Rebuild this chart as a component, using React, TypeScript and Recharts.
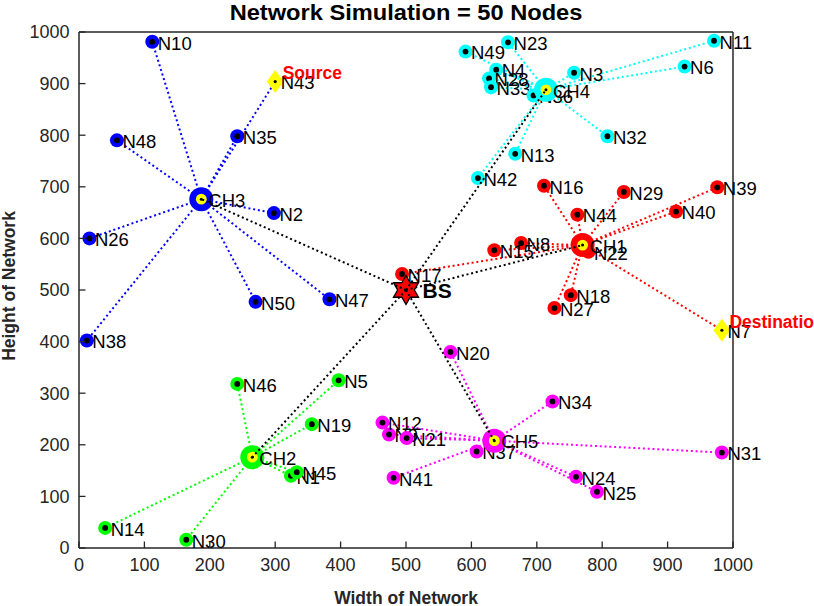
import React from 'react';
import { ScatterChart, Scatter, XAxis, YAxis } from 'recharts';

type Pt = { name: string; x: number; y: number };

// ---- data ----
const baseStation: Pt = { name: 'BS', x: 500, y: 500 };

const clusterHeads: Pt[] = [
  { name: 'CH1', x: 770, y: 587 },
  { name: 'CH2', x: 265, y: 176 },
  { name: 'CH3', x: 187, y: 676 },
  { name: 'CH4', x: 714, y: 888 },
  { name: 'CH5', x: 635, y: 208 },
];

const blueNodes: Pt[] = [
  { name: 'N2', x: 298, y: 649 },
  { name: 'N10', x: 112, y: 981 },
  { name: 'N26', x: 16, y: 600 },
  { name: 'N35', x: 242, y: 798 },
  { name: 'N38', x: 12, y: 402 },
  { name: 'N47', x: 383, y: 482 },
  { name: 'N48', x: 58, y: 790 },
  { name: 'N50', x: 270, y: 477 },
];

const greenNodes: Pt[] = [
  { name: 'N1', x: 324, y: 140 },
  { name: 'N5', x: 397, y: 325 },
  { name: 'N14', x: 40, y: 39 },
  { name: 'N19', x: 356, y: 240 },
  { name: 'N30', x: 164, y: 16 },
  { name: 'N45', x: 333, y: 147 },
  { name: 'N46', x: 242, y: 318 },
];

const redNodes: Pt[] = [
  { name: 'N8', x: 676, y: 591 },
  { name: 'N15', x: 635, y: 577 },
  { name: 'N16', x: 711, y: 702 },
  { name: 'N17', x: 494, y: 531 },
  { name: 'N18', x: 752, y: 490 },
  { name: 'N22', x: 779, y: 574 },
  { name: 'N27', x: 727, y: 465 },
  { name: 'N29', x: 833, y: 690 },
  { name: 'N39', x: 976, y: 699 },
  { name: 'N40', x: 913, y: 652 },
  { name: 'N44', x: 762, y: 646 },
];

const cyanNodes: Pt[] = [
  { name: 'N3', x: 757, y: 921 },
  { name: 'N4', x: 638, y: 927 },
  { name: 'N6', x: 926, y: 933 },
  { name: 'N11', x: 971, y: 983 },
  { name: 'N13', x: 667, y: 764 },
  { name: 'N23', x: 656, y: 980 },
  { name: 'N28', x: 627, y: 910 },
  { name: 'N32', x: 808, y: 798 },
  { name: 'N33', x: 630, y: 893 },
  { name: 'N36', x: 695, y: 877 },
  { name: 'N42', x: 610, y: 717 },
  { name: 'N49', x: 591, y: 962 },
];

const magentaNodes: Pt[] = [
  { name: 'N9', x: 474, y: 220 },
  { name: 'N12', x: 464, y: 243 },
  { name: 'N20', x: 568, y: 380 },
  { name: 'N21', x: 501, y: 213 },
  { name: 'N24', x: 760, y: 138 },
  { name: 'N25', x: 792, y: 109 },
  { name: 'N31', x: 983, y: 185 },
  { name: 'N34', x: 724, y: 284 },
  { name: 'N37', x: 608, y: 187 },
  { name: 'N41', x: 481, y: 136 },
];

const sourceNode: Pt = { name: 'N43', x: 300, y: 904 };
const destNode: Pt = { name: 'N7', x: 983, y: 422 };

const xTicks = [0, 100, 200, 300, 400, 500, 600, 700, 800, 900, 1000];
const yTicks = [0, 100, 200, 300, 400, 500, 600, 700, 800, 900, 1000];

const TITLE = 'Network Simulation = 50 Nodes';
const X_LABEL = 'Width of Network';
const Y_LABEL = 'Height of Network';

// ---- styles ----
const FONT = '"Liberation Sans", Arial, Helvetica, sans-serif';
const AXIS = '#262626';
const BLUE = '#0000ff';
const GREEN = '#00ff00';
const RED = '#ff0000';
const CYAN = '#00ffff';
const MAGENTA = '#ff00ff';
const YELLOW = '#ffff00';
const DASH = '2 2.8';
const LW = 2;

type Cluster = { color: string; head: Pt; nodes: Pt[] };
const clusters: Cluster[] = [
  { color: RED, head: clusterHeads[0], nodes: [...redNodes, destNode] },
  { color: GREEN, head: clusterHeads[1], nodes: greenNodes },
  { color: BLUE, head: clusterHeads[2], nodes: [...blueNodes, sourceNode] },
  { color: CYAN, head: clusterHeads[3], nodes: cyanNodes },
  { color: MAGENTA, head: clusterHeads[4], nodes: magentaNodes },
];

const nodeLabel = (cx: number, cy: number, text: string) => (
  <text x={cx + 5.5} y={cy + 7.8} fontSize={18.5} fill="#000" fontFamily={FONT}>
    {text}
  </text>
);

const makeNodeShape = (color: string) => (p: any) => {
  const { cx, cy, payload } = p;
  return (
    <g>
      <circle cx={cx} cy={cy} r={7} fill={color} />
      <circle cx={cx} cy={cy} r={2.9} fill="#000" />
      {nodeLabel(cx, cy, payload.name)}
    </g>
  );
};

const makeDiamondShape = (tag: string) => (p: any) => {
  const { cx, cy, payload } = p;
  const pts = `${cx},${cy - 11.5} ${cx + 8.5},${cy} ${cx},${cy + 11.5} ${cx - 8.5},${cy}`;
  return (
    <g>
      <polygon points={pts} fill={YELLOW} />
      <circle cx={cx} cy={cy} r={1.6} fill="#000" />
      {nodeLabel(cx, cy, payload.name)}
      <text x={cx + 7.5} y={cy - 2.2} fontSize={17.5} fontWeight="bold" fill={RED} fontFamily={FONT}>
        {tag}
      </text>
    </g>
  );
};

const makeHeadShape = (color: string) => (p: any) => {
  const { cx, cy, payload } = p;
  return (
    <g>
      <circle cx={cx} cy={cy} r={12} fill={color} />
      <circle cx={cx} cy={cy} r={5.4} fill={YELLOW} />
      <circle cx={cx} cy={cy} r={1.5} fill="#000" />
      <text x={cx + 7} y={cy + 7.8} fontSize={18.5} fill="#000" fontFamily={FONT}>
        {payload.name}
      </text>
    </g>
  );
};

const bsShape = (p: any) => {
  const { cx, cy, payload } = p;
  const R = 14.5;
  const r = R / Math.sqrt(3);
  const pts: string[] = [];
  for (let i = 0; i < 12; i++) {
    const a = -Math.PI / 2 + (i * Math.PI) / 6;
    const rr = i % 2 === 0 ? R : r;
    pts.push(`${cx + rr * Math.cos(a)},${cy + rr * Math.sin(a)}`);
  }
  return (
    <g>
      <polygon points={pts.join(' ')} fill={RED} stroke="#000" strokeWidth={1.3} />
      <text x={cx + 16.5} y={cy + 7.6} fontSize={21} fontWeight="bold" fill="#000" fontFamily={FONT}>
        {payload.name}
      </text>
    </g>
  );
};

const emptyShape = () => <g />;

const BottomTick = (p: any) => {
  const { x, y, payload } = p;
  return (
    <g>
      <line x1={x} x2={x} y1={y} y2={y - 6.5} stroke={AXIS} strokeWidth={1.3} />
      <text x={x} y={y + 23} textAnchor="middle" fontSize={18} fill={AXIS} fontFamily={FONT}>
        {payload.value}
      </text>
    </g>
  );
};
const TopTick = (p: any) => {
  const { x, y } = p;
  return <line x1={x} x2={x} y1={y} y2={y + 6.5} stroke={AXIS} strokeWidth={1.3} />;
};
const LeftTick = (p: any) => {
  const { x, y, payload } = p;
  return (
    <g>
      <line x1={x} x2={x + 6.5} y1={y} y2={y} stroke={AXIS} strokeWidth={1.3} />
      <text x={x - 9.5} y={y + 6.3} textAnchor="end" fontSize={18} fill={AXIS} fontFamily={FONT}>
        {payload.value}
      </text>
    </g>
  );
};
const RightTick = (p: any) => {
  const { x, y } = p;
  return <line x1={x} x2={x - 6.5} y1={y} y2={y} stroke={AXIS} strokeWidth={1.3} />;
};

const titleLabel = () => (
  <text
    transform="translate(406,20) scale(1.1,1)"
    textAnchor="middle"
    fontSize={21.5}
    fontWeight="bold"
    fill="#000"
    fontFamily={FONT}
  >
    {TITLE}
  </text>
);
const xLabel = () => (
  <text x={406} y={604} textAnchor="middle" fontSize={17.5} fontWeight="bold" fill={AXIS} fontFamily={FONT}>
    {X_LABEL}
  </text>
);
const yLabel = () => (
  <text
    transform="translate(15,286) rotate(-90)"
    textAnchor="middle"
    fontSize={17.5}
    fontWeight="bold"
    fill={AXIS}
    fontFamily={FONT}
  >
    {Y_LABEL}
  </text>
);

export default function App() {
  const axisLine = { stroke: AXIS, strokeWidth: 1.5 };
  return (
    <div style={{ position: 'absolute', left: 0, top: 0, width: 814, height: 606, background: '#fff' }}>
      <ScatterChart width={814} height={606} margin={{ top: 31, right: 80, bottom: 28, left: 29 }}>
        <XAxis
          type="number"
          dataKey="x"
          domain={[0, 1000]}
          ticks={xTicks}
          interval={0}
          height={30}
          tickSize={0}
          tickMargin={0}
          tickLine={false}
          axisLine={axisLine}
          tick={(p: any) => <BottomTick {...p} />}
          label={xLabel}
        />
        <XAxis
          xAxisId="top"
          orientation="top"
          type="number"
          dataKey="x"
          domain={[0, 1000]}
          ticks={xTicks}
          interval={0}
          height={1}
          tickSize={0}
          tickMargin={0}
          tickLine={false}
          axisLine={axisLine}
          tick={(p: any) => <TopTick {...p} />}
          label={titleLabel}
        />
        <YAxis
          type="number"
          dataKey="y"
          domain={[0, 1000]}
          ticks={yTicks}
          interval={0}
          width={50}
          tickSize={0}
          tickMargin={0}
          tickLine={false}
          axisLine={axisLine}
          tick={(p: any) => <LeftTick {...p} />}
          label={yLabel}
        />
        <YAxis
          yAxisId="right"
          orientation="right"
          type="number"
          dataKey="y"
          domain={[0, 1000]}
          ticks={yTicks}
          interval={0}
          width={1}
          tickSize={0}
          tickMargin={0}
          tickLine={false}
          axisLine={axisLine}
          tick={(p: any) => <RightTick {...p} />}
        />

        {clusters.flatMap((c) =>
          c.nodes.map((n) => (
            <Scatter
              key={`spoke-${c.head.name}-${n.name}`}
              data={[c.head, n]}
              fill={c.color}
              line={{ stroke: c.color, strokeWidth: LW, strokeDasharray: DASH }}
              shape={emptyShape}
              isAnimationActive={false}
            />
          ))
        )}

        <Scatter data={blueNodes} shape={makeNodeShape(BLUE)} isAnimationActive={false} />
        <Scatter data={greenNodes} shape={makeNodeShape(GREEN)} isAnimationActive={false} />
        <Scatter data={redNodes} shape={makeNodeShape(RED)} isAnimationActive={false} />
        <Scatter data={cyanNodes} shape={makeNodeShape(CYAN)} isAnimationActive={false} />
        <Scatter data={magentaNodes} shape={makeNodeShape(MAGENTA)} isAnimationActive={false} />
        <Scatter data={[sourceNode]} shape={makeDiamondShape('Source')} isAnimationActive={false} />
        <Scatter data={[destNode]} shape={makeDiamondShape('Destination')} isAnimationActive={false} />

        {clusters.map((c) => (
          <Scatter key={`head-${c.head.name}`} data={[c.head]} shape={makeHeadShape(c.color)} isAnimationActive={false} />
        ))}

        <Scatter data={[baseStation]} shape={bsShape} isAnimationActive={false} />

        {clusterHeads.map((h) => (
          <Scatter
            key={`bs-${h.name}`}
            data={[baseStation, h]}
            fill="#000"
            line={{ stroke: '#000', strokeWidth: LW, strokeDasharray: DASH }}
            shape={emptyShape}
            isAnimationActive={false}
          />
        ))}
      </ScatterChart>
    </div>
  );
}
